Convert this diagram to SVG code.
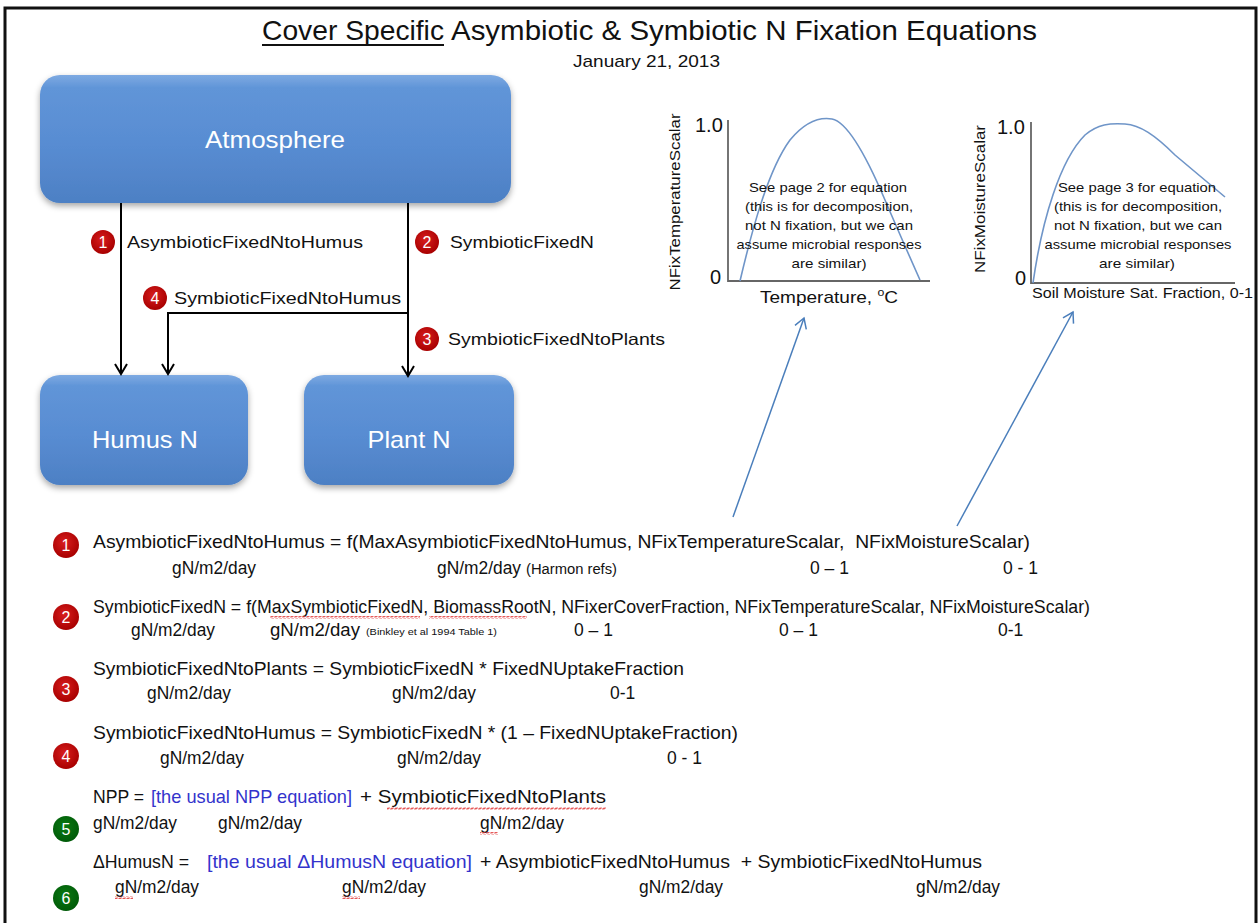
<svg xmlns="http://www.w3.org/2000/svg" width="1259" height="923" viewBox="0 0 1259 923">
  <style>
    text { font-family: "Liberation Sans", "Noto Sans", sans-serif; fill: #111; }
    .title { font-size: 28px; }
    .date { font-size: 17px; }
    .box { fill: url(#boxFill); filter: url(#shadow); }
    .boxText { font-size: 24px; fill: #fff; text-anchor: middle; }
    .lbl { font-size: 16.5px; }
    .flow { fill: none; stroke: #000; stroke-width: 2; }
    .ptr { fill: none; stroke: #4a7ebb; stroke-width: 1.5; }
    .axis { fill: none; stroke: #666; stroke-width: 1.8; }
    .curve { fill: none; stroke: #6f95c8; stroke-width: 1.6; }
    .note { font-size: 13.5px; text-anchor: middle; }
    .tick { font-size: 20px; }
    .ylab { font-size: 15px; text-anchor: middle; }
    .eq { font-size: 19px; white-space: pre; }
    .unit { font-size: 17.5px; }
    .ref { font-size: 14px; }
    .tiny { font-size: 9px; }
    .blue { fill: #3333cc; }
    .num { font-size: 16px; fill: #fff; text-anchor: middle; }
    .red { fill: url(#redDot); }
    .green { fill: url(#greenDot); }
  </style>
  <defs>
    <linearGradient id="boxFill" x1="0" y1="0" x2="0" y2="1">
      <stop offset="0" stop-color="#7eaae2"/>
      <stop offset="0.1" stop-color="#6095d8"/>
      <stop offset="0.55" stop-color="#588cd2"/>
      <stop offset="1" stop-color="#4d80c4"/>
    </linearGradient>
    <radialGradient id="redDot" cx="0.45" cy="0.4" r="0.6">
      <stop offset="0" stop-color="#d81e1e"/>
      <stop offset="1" stop-color="#a80000"/>
    </radialGradient>
    <radialGradient id="greenDot" cx="0.45" cy="0.4" r="0.6">
      <stop offset="0" stop-color="#0a7a12"/>
      <stop offset="1" stop-color="#005a08"/>
    </radialGradient>
    <filter id="shadow" x="-10%" y="-10%" width="120%" height="130%">
      <feDropShadow dx="0" dy="3" stdDeviation="3" flood-color="#000" flood-opacity="0.35"/>
    </filter>
    <marker id="openHead" viewBox="0 0 10 12" refX="10" refY="6" markerWidth="10" markerHeight="12" markerUnits="userSpaceOnUse" orient="auto" overflow="visible">
      <path d="M0,0 L10,6 L0,12" fill="none" stroke="#000" stroke-width="2"/>
    </marker>
    <marker id="blueHead" viewBox="0 0 10 12" refX="10" refY="6" markerWidth="10" markerHeight="12" markerUnits="userSpaceOnUse" orient="auto" overflow="visible">
      <path d="M0,0 L10,6 L0,12" fill="none" stroke="#4a7ebb" stroke-width="1.5"/>
    </marker>
    <pattern id="squiggle" width="4" height="3" patternUnits="userSpaceOnUse">
      <path d="M0,2.5 L1,0.5 L3,2.5 L4,0.5" fill="none" stroke="#e03030" stroke-width="0.8"/>
    </pattern>
  </defs>

  <rect width="1259" height="923" fill="#fff"/>
  <!-- page frame -->
  <path d="M5,923 V8 H1256 V923" fill="none" stroke="#111" stroke-width="3"/>

  <!-- heading -->
  <g id="heading">
    <text class="title" x="262" y="40" textLength="182" lengthAdjust="spacingAndGlyphs">Cover Specific</text>
    <line x1="262" y1="45" x2="444" y2="45" stroke="#111" stroke-width="2"/>
    <text class="title" x="451" y="40" textLength="586" lengthAdjust="spacingAndGlyphs">Asymbiotic &amp; Symbiotic N Fixation Equations</text>
    <text class="date" x="573" y="67" textLength="147" lengthAdjust="spacingAndGlyphs">January 21, 2013</text>
  </g>

  <!-- pools -->
  <g id="atmosphere">
    <rect class="box" x="40" y="75" width="471" height="128" rx="20"/>
    <text class="boxText" x="275" y="148" textLength="140" lengthAdjust="spacingAndGlyphs">Atmosphere</text>
  </g>
  <g id="humus-n">
    <rect class="box" x="40" y="375" width="208" height="110" rx="20"/>
    <text class="boxText" x="145" y="448" textLength="106" lengthAdjust="spacingAndGlyphs">Humus N</text>
  </g>
  <g id="plant-n">
    <rect class="box" x="304" y="375" width="210" height="110" rx="20"/>
    <text class="boxText" x="409" y="448" textLength="83" lengthAdjust="spacingAndGlyphs">Plant N</text>
  </g>

  <!-- N fluxes between pools, and pointers to the response plots -->
  <g id="connectors">
    <line class="flow" x1="121" y1="203" x2="121" y2="374" marker-end="url(#openHead)"/>
    <line class="flow" x1="408" y1="203" x2="408" y2="376" marker-end="url(#openHead)"/>
    <path class="flow" d="M408,313 H168 V374" marker-end="url(#openHead)"/>
    <line class="ptr" x1="733" y1="517" x2="804" y2="318" marker-end="url(#blueHead)"/>
    <line class="ptr" x1="957" y1="526" x2="1073" y2="312" marker-end="url(#blueHead)"/>
  </g>

  <g id="flux-1">
    <circle class="red" cx="103" cy="242" r="12"/>
    <text class="num" x="103" y="248">1</text>
    <text class="lbl" x="127" y="248" textLength="236" lengthAdjust="spacingAndGlyphs">AsymbioticFixedNtoHumus</text>
  </g>
  <g id="flux-2">
    <circle class="red" cx="427" cy="242" r="12"/>
    <text class="num" x="427" y="248">2</text>
    <text class="lbl" x="450" y="248" textLength="144" lengthAdjust="spacingAndGlyphs">SymbioticFixedN</text>
  </g>
  <g id="flux-4">
    <circle class="red" cx="155" cy="298" r="12"/>
    <text class="num" x="155" y="304">4</text>
    <text class="lbl" x="174" y="304" textLength="227" lengthAdjust="spacingAndGlyphs">SymbioticFixedNtoHumus</text>
  </g>
  <g id="flux-3">
    <circle class="red" cx="427" cy="339" r="12"/>
    <text class="num" x="427" y="345">3</text>
    <text class="lbl" x="448" y="345" textLength="217" lengthAdjust="spacingAndGlyphs">SymbioticFixedNtoPlants</text>
  </g>

  <!-- temperature response plot -->
  <g id="temperature-plot">
    <path class="axis" d="M728,120 V281 H930"/>
    <path class="curve" d="M740,281 C752,230 768,170 790,140 C805,122 820,117 832,119 C848,122 868,160 885,200 C900,235 912,262 920,280"/>
    <text class="tick" x="695" y="132">1.0</text>
    <text class="tick" x="710" y="284">0</text>
    <text class="ylab" transform="translate(680,202) rotate(-90)" textLength="177" lengthAdjust="spacingAndGlyphs">NFixTemperatureScalar</text>
    <text class="note" x="828" y="192" textLength="158" lengthAdjust="spacingAndGlyphs">See page 2 for equation</text>
    <text class="note" x="829" y="211" textLength="168" lengthAdjust="spacingAndGlyphs">(this is for decomposition,</text>
    <text class="note" x="829" y="230" textLength="168" lengthAdjust="spacingAndGlyphs">not N fixation, but we can</text>
    <text class="note" x="829" y="249" textLength="185" lengthAdjust="spacingAndGlyphs">assume microbial responses</text>
    <text class="note" x="829" y="268" textLength="75" lengthAdjust="spacingAndGlyphs">are similar)</text>
    <text x="760" y="303" font-size="17" textLength="138" lengthAdjust="spacingAndGlyphs">Temperature, <tspan font-size="11" dy="-7">o</tspan><tspan dy="7">C</tspan></text>
  </g>

  <!-- moisture response plot -->
  <g id="moisture-plot">
    <path class="axis" d="M1031,122 V283 H1235"/>
    <path class="curve" d="M1033,283 C1042,220 1060,160 1085,135 C1098,124 1110,123 1125,124 C1140,125 1155,135 1175,155 C1195,172 1212,186 1225,197"/>
    <text class="tick" x="997" y="134">1.0</text>
    <text class="tick" x="1015" y="285">0</text>
    <text class="ylab" transform="translate(985,199) rotate(-90)" textLength="148" lengthAdjust="spacingAndGlyphs">NFixMoistureScalar</text>
    <text class="note" x="1137" y="192" textLength="158" lengthAdjust="spacingAndGlyphs">See page 3 for equation</text>
    <text class="note" x="1138" y="211" textLength="168" lengthAdjust="spacingAndGlyphs">(this is for decomposition,</text>
    <text class="note" x="1138" y="230" textLength="168" lengthAdjust="spacingAndGlyphs">not N fixation, but we can</text>
    <text class="note" x="1138" y="249" textLength="187" lengthAdjust="spacingAndGlyphs">assume microbial responses</text>
    <text class="note" x="1137" y="268" textLength="76" lengthAdjust="spacingAndGlyphs">are similar)</text>
    <text x="1032" y="298" font-size="14" textLength="221" lengthAdjust="spacingAndGlyphs">Soil Moisture Sat. Fraction, 0-1</text>
  </g>

  <!-- equation 1 -->
  <g id="equation-1">
    <circle class="red" cx="66" cy="545" r="13"/>
    <text class="num" x="66" y="551">1</text>
    <text class="eq" x="93" y="548" textLength="937" lengthAdjust="spacingAndGlyphs">AsymbioticFixedNtoHumus = f(MaxAsymbioticFixedNtoHumus, NFixTemperatureScalar,  NFixMoistureScalar)</text>
    <text class="unit" x="172" y="574" textLength="84" lengthAdjust="spacingAndGlyphs">gN/m2/day</text>
    <text class="unit" x="437" y="574" textLength="84" lengthAdjust="spacingAndGlyphs">gN/m2/day</text>
    <text class="ref" x="526" y="574" textLength="91" lengthAdjust="spacingAndGlyphs">(Harmon refs)</text>
    <text class="unit" x="810" y="574">0 – 1</text>
    <text class="unit" x="1003" y="574">0 - 1</text>
  </g>

  <!-- equation 2 -->
  <g id="equation-2">
    <circle class="red" cx="66" cy="617" r="13"/>
    <text class="num" x="66" y="623">2</text>
    <text class="eq" x="93" y="613" textLength="997" lengthAdjust="spacingAndGlyphs">SymbioticFixedN = f(MaxSymbioticFixedN, BiomassRootN, NFixerCoverFraction, NFixTemperatureScalar, NFixMoistureScalar)</text>
    <rect x="270" y="616" width="150" height="3" fill="url(#squiggle)"/>
    <rect x="429" y="616" width="98" height="3" fill="url(#squiggle)"/>
    <text class="unit" x="131" y="636" textLength="84" lengthAdjust="spacingAndGlyphs">gN/m2/day</text>
    <text class="unit" x="270" y="636" textLength="90" lengthAdjust="spacingAndGlyphs">gN/m2/day</text>
    <text class="tiny" x="366" y="635" textLength="131" lengthAdjust="spacingAndGlyphs">(Binkley et al 1994 Table 1)</text>
    <text class="unit" x="574" y="636">0 – 1</text>
    <text class="unit" x="779" y="636">0 – 1</text>
    <text class="unit" x="998" y="636">0-1</text>
  </g>

  <!-- equation 3 -->
  <g id="equation-3">
    <circle class="red" cx="66" cy="689" r="13"/>
    <text class="num" x="66" y="695">3</text>
    <text class="eq" x="93" y="675" textLength="591" lengthAdjust="spacingAndGlyphs">SymbioticFixedNtoPlants = SymbioticFixedN * FixedNUptakeFraction</text>
    <text class="unit" x="147" y="699" textLength="84" lengthAdjust="spacingAndGlyphs">gN/m2/day</text>
    <text class="unit" x="392" y="699" textLength="84" lengthAdjust="spacingAndGlyphs">gN/m2/day</text>
    <text class="unit" x="610" y="699">0-1</text>
  </g>

  <!-- equation 4 -->
  <g id="equation-4">
    <circle class="red" cx="66" cy="756" r="13"/>
    <text class="num" x="66" y="762">4</text>
    <text class="eq" x="93" y="739" textLength="645" lengthAdjust="spacingAndGlyphs">SymbioticFixedNtoHumus = SymbioticFixedN * (1 – FixedNUptakeFraction)</text>
    <text class="unit" x="160" y="764" textLength="84" lengthAdjust="spacingAndGlyphs">gN/m2/day</text>
    <text class="unit" x="397" y="764" textLength="84" lengthAdjust="spacingAndGlyphs">gN/m2/day</text>
    <text class="unit" x="667" y="764">0 - 1</text>
  </g>

  <!-- equation 5 -->
  <g id="equation-5">
    <circle class="green" cx="66" cy="829" r="13"/>
    <text class="num" x="66" y="835">5</text>
    <text class="eq" x="93" y="803" textLength="51" lengthAdjust="spacingAndGlyphs">NPP =</text>
    <text class="eq blue" x="151" y="803" textLength="201" lengthAdjust="spacingAndGlyphs">[the usual NPP equation]</text>
    <text class="eq" x="360" y="803" textLength="246" lengthAdjust="spacingAndGlyphs">+ SymbioticFixedNtoPlants</text>
    <rect x="387" y="807" width="219" height="3" fill="url(#squiggle)"/>
    <text class="unit" x="93" y="829" textLength="84" lengthAdjust="spacingAndGlyphs">gN/m2/day</text>
    <text class="unit" x="218" y="829" textLength="84" lengthAdjust="spacingAndGlyphs">gN/m2/day</text>
    <text class="unit" x="480" y="829" textLength="84" lengthAdjust="spacingAndGlyphs">gN/m2/day</text>
    <rect x="480" y="832" width="18" height="3" fill="url(#squiggle)"/>
  </g>

  <!-- equation 6 -->
  <g id="equation-6">
    <circle class="green" cx="66" cy="898" r="13"/>
    <text class="num" x="66" y="904">6</text>
    <text class="eq" x="93" y="868" textLength="96" lengthAdjust="spacingAndGlyphs">ΔHumusN =</text>
    <text class="eq blue" x="207" y="868" textLength="265" lengthAdjust="spacingAndGlyphs">[the usual ΔHumusN equation]</text>
    <text class="eq" x="480" y="868" textLength="502" lengthAdjust="spacingAndGlyphs">+ AsymbioticFixedNtoHumus  + SymbioticFixedNtoHumus</text>
    <text class="unit" x="115" y="893" textLength="84" lengthAdjust="spacingAndGlyphs">gN/m2/day</text>
    <rect x="115" y="896" width="18" height="3" fill="url(#squiggle)"/>
    <text class="unit" x="342" y="893" textLength="84" lengthAdjust="spacingAndGlyphs">gN/m2/day</text>
    <rect x="342" y="896" width="18" height="3" fill="url(#squiggle)"/>
    <text class="unit" x="639" y="893" textLength="84" lengthAdjust="spacingAndGlyphs">gN/m2/day</text>
    <text class="unit" x="916" y="893" textLength="84" lengthAdjust="spacingAndGlyphs">gN/m2/day</text>
  </g>
</svg>
